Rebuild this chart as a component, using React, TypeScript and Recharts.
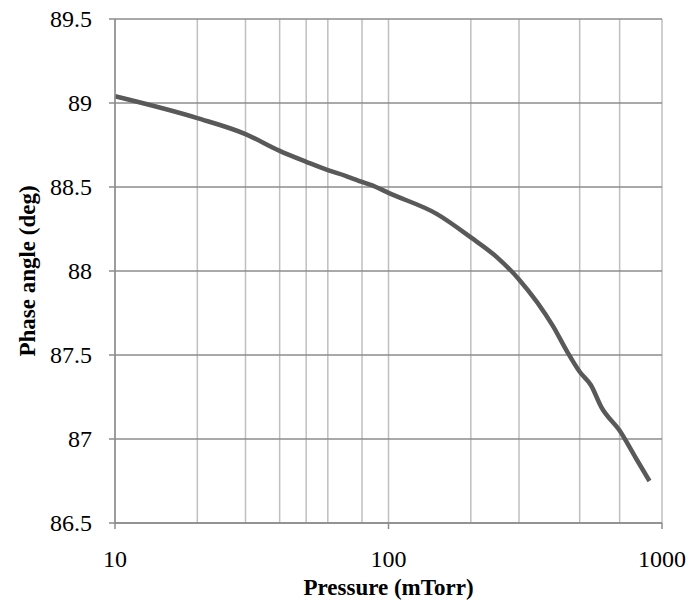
import { LineChart, Line, XAxis, YAxis, CartesianGrid } from "recharts";

const pressure = [10, 20, 30, 40, 50, 60, 70, 80, 90, 100, 150, 200, 250, 300, 400, 450, 500, 550, 600, 700, 800, 900];
const phase = [89.04, 88.91, 88.815, 88.715, 88.65, 88.6, 88.565, 88.53, 88.5, 88.465, 88.34, 88.2, 88.08, 87.95, 87.67, 87.52, 87.4, 87.32, 87.19, 87.05, 86.89, 86.75];

const gridTicks = [10, 20, 30, 40, 50, 60, 70, 80, 90, 100, 200, 300, 400, 500, 600, 700, 800, 900, 1000];
const labelTicks = [10, 100, 1000];
const yTicks = [86.5, 87, 87.5, 88, 88.5, 89, 89.5];

const FONT = '"Liberation Serif", "Times New Roman", serif';

const XTick = (props: any) => {
  const { x, y, payload } = props;
  return (
    <text x={x} y={y + 24} textAnchor="middle" fontSize={24} fontFamily={FONT} fill="#000">
      {payload.value}
    </text>
  );
};

const YTick = (props: any) => {
  const { x, y, payload } = props;
  return (
    <text x={x} y={y + 8} textAnchor="end" fontSize={24} fontFamily={FONT} fill="#000">
      {payload.value}
    </text>
  );
};

export default function App() {
  const data = pressure.map((p, i) => ({ p, v: phase[i] }));

  return (
    <div style={{ position: "absolute", left: 0, top: 0, background: "#fff" }}>
      <LineChart
        width={691}
        height={609}
        data={data}
        margin={{ top: 19, right: 29, bottom: 0, left: 0 }}
      >
        <CartesianGrid xAxisId="grid" horizontal={false} stroke="#bfbfbf" strokeWidth={1.5} />
        <CartesianGrid xAxisId="grid" vertical={false} stroke="#8c8c8c" strokeWidth={1.5} />
        <XAxis
          xAxisId="main"
          dataKey="p"
          type="number"
          scale="log"
          domain={[10, 1000]}
          ticks={labelTicks}
          height={86}
          tickSize={6}
          tickMargin={14}
          stroke="#8c8c8c"
          strokeWidth={1.5}
          tick={<XTick />}
          label={{
            value: "Pressure (mTorr)",
            position: "insideBottom",
            offset: 14,
            fill: "#000",
            fontSize: 23,
            fontWeight: "bold",
            fontFamily: FONT,
          }}
        />
        <XAxis
          xAxisId="grid"
          dataKey="p"
          type="number"
          scale="log"
          domain={[10, 1000]}
          ticks={gridTicks}
          height={0}
          hide
        />
        <YAxis
          type="number"
          domain={[86.5, 89.5]}
          ticks={yTicks}
          width={115}
          tickSize={6}
          tickMargin={17}
          stroke="#8c8c8c"
          strokeWidth={1.5}
          tick={<YTick />}
          label={{
            value: "Phase angle (deg)",
            angle: -90,
            position: "center",
            dx: -31,
            fill: "#000",
            fontSize: 23,
            fontWeight: "bold",
            fontFamily: FONT,
          }}
        />
        <Line
          xAxisId="main"
          dataKey="v"
          type="monotone"
          stroke="#595959"
          strokeWidth={4.5}
          dot={false}
          isAnimationActive={false}
        />
      </LineChart>
    </div>
  );
}
